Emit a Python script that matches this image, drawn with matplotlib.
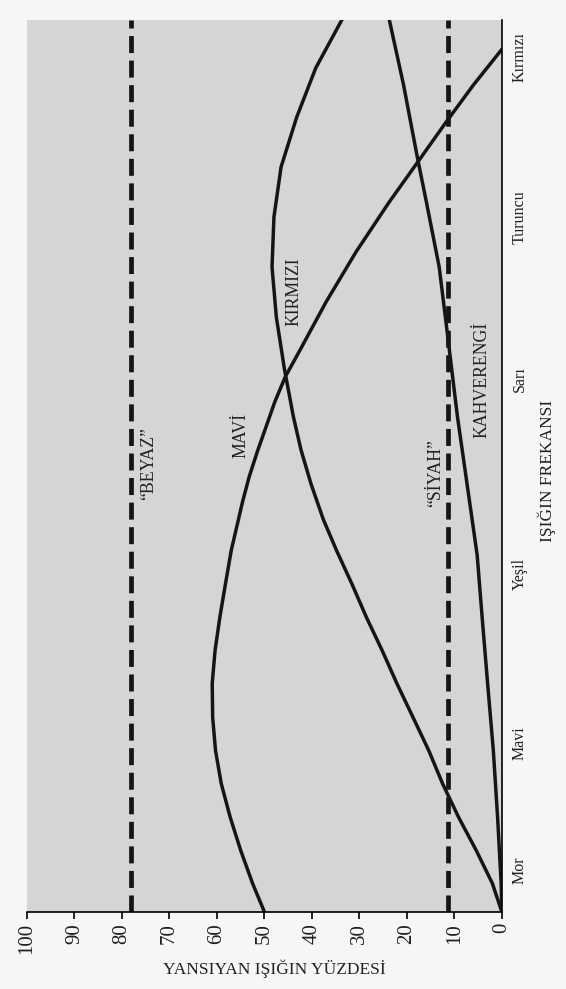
import numpy as np
import matplotlib.pyplot as plt

plt.rcParams['font.family'] = ['Liberation Serif', 'DejaVu Serif']

#=========Veriler==========================================
renk_adlari = ['Mor', 'Mavi', 'Yeşil', 'Sarı', 'Turuncu', 'Kırmızı']
renk_konum = [4.7, 18.9, 37.9, 59.7, 77.9, 95.8]        # frekans ekseni (0-100 göreli)
yuzde_ticks = [0, 10, 20, 30, 40, 50, 60, 70, 80, 90, 100]

beyaz = 78                                              # "BEYAZ" yüzdesi (sabit)
siyah = 11.3                                            # "SİYAH" yüzdesi (sabit)

mavi_frek = [0, 3.2, 6.9, 10.6, 14.4, 18.1, 21.8, 25.6, 29.3, 33.0, 36.8, 40.5,
             46.0, 48.8, 51.6, 57.2, 60.0, 62.8, 68.4, 74.0, 79.6, 84.0, 88.5, 92.7, 96.7]
mavi_yuzde = [50.0, 52.5, 55.0, 57.2, 59.1, 60.3, 60.9, 61.0, 60.4, 59.4, 58.2, 57.0,
              54.6, 53.2, 51.5, 47.8, 45.6, 42.7, 37.0, 30.7, 23.7, 17.8, 11.8, 6.0, 0]

kirmizi_frek = [0, 3.2, 6.9, 10.6, 14.4, 18.1, 21.8, 25.6, 29.3, 33.0, 36.8, 40.5,
                44.0, 48.0, 51.8, 55.5, 60.9, 66.7, 72.3, 77.9, 83.5, 89.1, 94.6, 100]
kirmizi_yuzde = [0, 2.0, 5.4, 9.1, 12.5, 15.4, 18.7, 22.1, 25.2, 28.5, 31.6, 34.8,
                 37.6, 40.2, 42.3, 43.9, 45.8, 47.5, 48.4, 48.0, 46.5, 43.2, 39.2, 33.7]

kahve_frek = [0, 3.2, 10.6, 18.1, 25.6, 33.0, 40.0, 51.6, 55.5, 66.7, 72.3, 79.6,
              84.6, 92.7, 100]
kahve_yuzde = [0, 0.15, 0.9, 1.8, 3.0, 4.15, 5.2, 8.3, 9.35, 11.9, 13.2, 15.9,
               17.8, 20.7, 23.7]

etiketler = ['“BEYAZ”', 'MAVİ', 'KIRMIZI', '“SİYAH”', 'KAHVERENGİ']
etiket_yuzde = [74.4, 55.0, 43.8, 13.9, 4.2]
etiket_frek = [50.3, 53.4, 69.5, 49.2, 59.7]

#=========Grafik===========================================
fig = plt.figure(figsize=(5.66, 9.89), dpi=100, facecolor='#f6f6f6')
ax = fig.add_axes([0.0477, 0.0779, 0.839, 0.902])
ax.set_facecolor('#d5d5d5')

cizgi = '#151515'
ax.axvline(beyaz, color=cizgi, lw=3.4, dashes=(3.6, 1.6))
ax.axvline(siyah, color=cizgi, lw=3.4, dashes=(3.6, 1.6))
ax.plot(mavi_yuzde, mavi_frek, color=cizgi, lw=2.5, solid_capstyle='round', solid_joinstyle='round')
ax.plot(kirmizi_yuzde, kirmizi_frek, color=cizgi, lw=2.5, solid_capstyle='round', solid_joinstyle='round')
ax.plot(kahve_yuzde, kahve_frek, color=cizgi, lw=2.5, solid_capstyle='round', solid_joinstyle='round')

for t, x, y in zip(etiketler, etiket_yuzde, etiket_frek):
    ax.text(x, y, t, rotation=90, ha='center', va='center', fontsize=12.8, color='#202020')

ax.set_xlim(100, 0)
ax.set_ylim(0, 100)

ax.set_xticks(yuzde_ticks)
ax.set_xticklabels([str(v) for v in yuzde_ticks], rotation=90, fontsize=15, color='#202020')
ax.tick_params(axis='x', direction='out', length=5, width=1.2, pad=3)

ax.yaxis.tick_right()
ax.set_yticks(renk_konum)
ax.set_yticklabels(renk_adlari, rotation=90, va='center', fontsize=11.5, color='#202020')
ax.tick_params(axis='y', length=0, pad=7)

for s in ['top', 'left']:
    ax.spines[s].set_visible(False)
ax.spines['bottom'].set_linewidth(1.2)
ax.spines['right'].set_linewidth(1.2)

ax.set_xlabel('YANSIYAN IŞIĞIN YÜZDESİ', fontsize=12.5, color='#202020')
ax.xaxis.set_label_coords(0.52, -0.064)
ax.xaxis.label.set_va('center')

ax.yaxis.set_label_position('right')
ax.set_ylabel('IŞIĞIN FREKANSI', fontsize=12.5, rotation=90, color='#202020')
ax.yaxis.set_label_coords(1.095, 0.494)
ax.yaxis.label.set_va('center')
ax.yaxis.label.set_ha('center')

plt.savefig('out.png', dpi=100, facecolor=fig.get_facecolor())
